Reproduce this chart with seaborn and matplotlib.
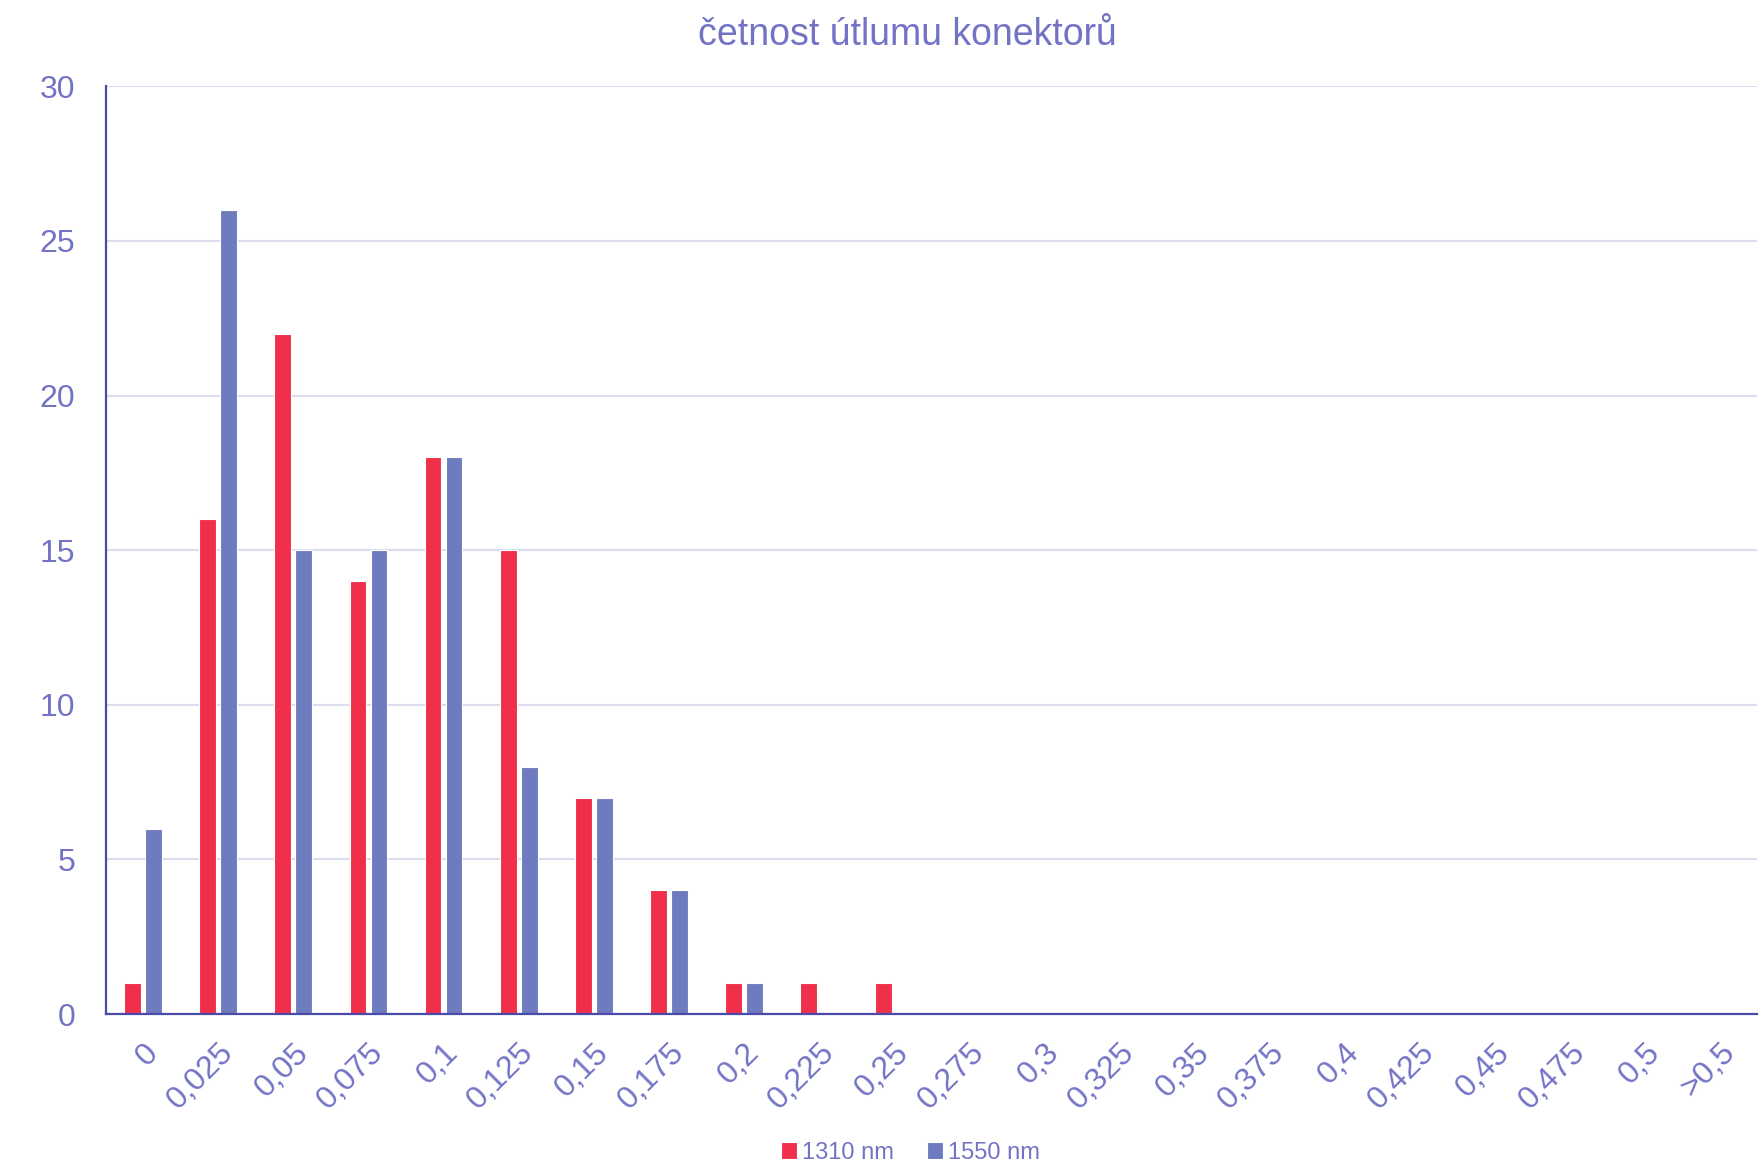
import matplotlib
matplotlib.use("Agg")
import matplotlib.pyplot as plt
import seaborn as sns
import pandas as pd

# data
categories = ["0", "0,025", "0,05", "0,075", "0,1", "0,125", "0,15", "0,175", "0,2",
              "0,225", "0,25", "0,275", "0,3", "0,325", "0,35", "0,375", "0,4", "0,425",
              "0,45", "0,475", "0,5", ">0,5"]
n1310 = [1, 16, 22, 14, 18, 15, 7, 4, 1, 1, 1, 0, 0, 0, 0, 0, 0, 0, 0, 0, 0, 0]
n1550 = [6, 26, 15, 15, 18, 8, 7, 4, 1, 0, 0, 0, 0, 0, 0, 0, 0, 0, 0, 0, 0, 0]
series = ["1310 nm", "1550 nm"]

df = pd.DataFrame({
    "kat": categories * 2,
    "pocet": n1310 + n1550,
    "vlna": [series[0]] * len(categories) + [series[1]] * len(categories),
})

sns.set_theme(style="white")
plt.rcParams["font.family"] = ["Liberation Sans", "DejaVu Sans"]

txt = "#7373c6"
axc = "#4a4aa8"
colors = {"1310 nm": "#f0304a", "1550 nm": "#6f7bbf"}

fig, ax = plt.subplots(figsize=(17.61, 11.67), dpi=100)
fig.subplots_adjust(left=0.06, right=0.998, top=0.926, bottom=0.131)

sns.barplot(data=df, x="kat", y="pocet", hue="vlna", palette=colors, saturation=1,
            width=0.56, gap=0.2, ax=ax, edgecolor="white", linewidth=0.8)

ax.set_ylim(0, 30)
ax.set_yticks(range(0, 31, 5))
ax.set_xlim(-0.5, len(categories) - 0.5)
ax.yaxis.grid(True, color="#dcdcf0", linewidth=1.5)
ax.set_axisbelow(True)
ax.set_xlabel("")
ax.set_ylabel("")
for s in ["top", "right"]:
    ax.spines[s].set_visible(False)
ax.spines["left"].set_color(axc)
ax.spines["bottom"].set_color(axc)
ax.spines["left"].set_linewidth(1.6)
ax.spines["bottom"].set_linewidth(1.6)
ax.tick_params(axis="both", length=0, colors=txt, labelsize=23)
ax.tick_params(axis="y", pad=22)
ax.tick_params(axis="x", pad=17)
plt.setp(ax.get_xticklabels(), rotation=45, ha="right", rotation_mode="anchor")

fig.text(0.515, 0.970, "četnost útlumu konektorů", color=txt, fontsize=27,
         ha="center", va="center")

ax.legend(loc="center", bbox_to_anchor=(0.517, 0.012), bbox_transform=fig.transFigure,
          ncol=2, frameon=False, fontsize=17, handlelength=0.7, handleheight=0.7,
          handletextpad=0.2, columnspacing=1.4, labelcolor=txt)

fig.savefig("out.png", dpi=100)
